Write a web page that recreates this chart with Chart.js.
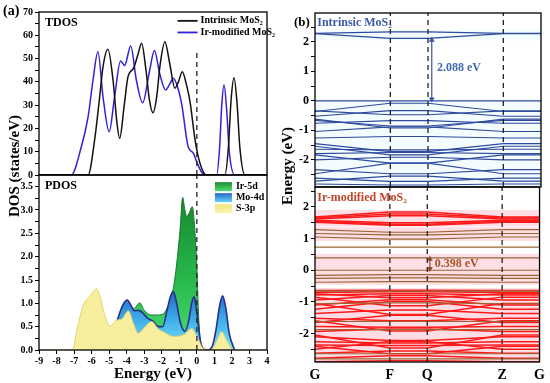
<!DOCTYPE html>
<html>
<head>
<meta charset="utf-8">
<script src="https://cdn.jsdelivr.net/npm/chart.js@4.4.1/dist/chart.umd.min.js"></script>
<style>
    body { margin: 0; background: #fff; }
    #fig { position: relative; width: 550px; height: 383px; overflow: hidden;
           font-family: "Liberation Serif", "Times New Roman", serif; font-weight: bold; }
    canvas { position: absolute; }
    .lbl { position: absolute; white-space: nowrap; color: #000; }
    .rot { transform: translate(-50%, -50%) rotate(-90deg); }
</style>
</head>
<body>
<div id="fig">
    <canvas id="tdos" width="275" height="190" style="left:0;top:0"></canvas>
    <canvas id="pdos" width="275" height="218" style="left:0;top:165px"></canvas>
    <canvas id="bandA" width="275" height="200" style="left:275px;top:0"></canvas>
    <canvas id="bandB" width="275" height="206" style="left:275px;top:177px"></canvas>
    <div class="lbl" style="left:3px;top:3px;font-size:14px">(a)</div>
    <div class="lbl rot" style="left:14px;top:166px;font-size:15px">DOS (states/eV)</div>
    <div class="lbl" style="left:294px;top:14px;font-size:13px">(b)</div>
    <div class="lbl rot" style="left:287px;top:166px;font-size:15px">Energy (eV)</div>
</div>
<script>
//
// Data
//

// TDOS (energy in eV, states/eV)
const tdosIntrinsicE = [-9, -6.2, -5.83, -5.54, -5.35, -5.07, -4.78, -4.55, -4.4, -4.15, -3.93, -3.6, -3.35, -3.15, -2.9, -2.7, -2.5, -2.3, -2.1, -1.82, -1.55, -1.25, -1.05, -0.83, -0.6, -0.39, -0.1, 0.18, 0.56, 1.6, 1.8, 1.95, 2.12, 2.3, 2.45, 2.74, 4]
const tdosIntrinsic = [0, 0, 15, 33.6, 46.5, 54, 40.8, 22, 15.7, 29.3, 42, 46, 52, 56.6, 45, 32, 26.7, 33, 47, 57.2, 48, 37.3, 40, 44.3, 39, 31.5, 15, 5, 0, 0, 12, 32, 41.8, 30, 12, 0, 0]
const tdosIrE = [-9, -7.16, -6.59, -6.2, -5.92, -5.64, -5.35, -5.0, -4.69, -4.35, -4.12, -3.77, -3.45, -3.09, -2.69, -2.42, -2.12, -1.78, -1.55, -1.34, -1.15, -0.87, -0.49, -0.2, -0.01, 0.25, 0.5, 1.13, 1.3, 1.42, 1.55, 1.7, 1.85, 2.17, 4]
const tdosIr = [0, 0, 12, 25, 40.8, 52.9, 33.6, 18.6, 33.6, 49, 47, 55.4, 40.8, 31, 45, 53.5, 43.6, 36.5, 39, 41.6, 39, 30.8, 12, 9.4, 5.7, 1.5, 0, 0, 12, 30, 38.6, 28, 10, 0, 0]

// PDOS (energy in eV, states/eV)
const pdosSE = [-9, -7.1, -6.8, -6.47, -6.09, -5.71, -5.52, -5.25, -4.95, -4.57, -4.28, -3.91, -3.6, -3.34, -2.95, -2.58, -2.2, -1.91, -1.34, -0.68, -0.29, 0.0, 0.37, 0.65, 0.95, 1.2, 1.42, 1.7, 2.07, 4]
const pdosS = [0, 0, 0.5, 0.96, 1.16, 1.31, 1.14, 0.75, 0.51, 0.64, 0.66, 0.84, 0.55, 0.36, 0.5, 0.61, 0.45, 0.39, 0.29, 0.34, 0.46, 0.29, 0.03, 0, 0.05, 0.25, 0.39, 0.2, 0, 0]
const pdosMoE = [-5.0, -4.7, -4.44, -4.2, -3.97, -3.75, -3.55, -3.3, -3.1, -2.8, -2.5, -2.2, -1.95, -1.7, -1.5, -1.34, -1.15, -0.95, -0.68, -0.45, -0.3, -0.15, 0.0, 0.2, 0.4, 0.65, 0.9, 1.1, 1.3, 1.47, 1.65, 1.85, 2.15]
const pdosMo = [0, 0.4, 0.75, 0.98, 1.07, 0.95, 0.84, 0.85, 0.8, 0.68, 0.62, 0.5, 0.5, 0.85, 1.15, 1.25, 1.0, 0.6, 0.4, 0.65, 1.0, 1.14, 0.8, 0.2, 0.02, 0, 0.1, 0.45, 0.95, 1.16, 0.9, 0.35, 0]
const pdosIrE = [-5.0, -4.6, -4.2, -3.97, -3.6, -3.26, -3.0, -2.6, -2.2, -1.9, -1.6, -1.35, -1.15, -0.96, -0.81, -0.68, -0.58, -0.45, -0.26, -0.12, 0.0, 0.12, 0.3, 0.5]
const pdosIr = [0, 0.55, 0.95, 1.05, 0.88, 1.01, 0.85, 0.75, 0.75, 0.78, 0.98, 1.3, 1.85, 2.57, 3.27, 3.0, 2.86, 2.93, 3.07, 2.6, 1.78, 0.58, 0.05, 0]

// Band structure: high-symmetry path and energies [at G/Z, at F/Q] (eV)
const kPoints = [0, 2, 3, 5, 6]
const kLabels = ['G', 'F', 'Q', 'Z', 'G']
const bandsIntrinsic = [
    [2.29, 2.34], [2.28, 2.12],
    [0.00, 0.00], [-0.36, -0.08], [-0.34, -0.47], [-0.52, -0.33],
    [-0.66, -0.85], [-0.76, -0.67], [-0.62, -0.92], [-1.04, -0.88],
    [-1.26, -1.21], [-1.54, -1.83], [-1.64, -1.66], [-1.79, -1.75],
    [-1.45, -1.72], [-2.00, -1.91], [-1.83, -2.11], [-2.33, -2.47],
    [-2.47, -2.11], [-2.62, -2.73], [-2.82, -2.85], [-2.72, -2.55],
]
const bandsIrRed = [
    [1.68, 1.84], [1.65, 1.78], [1.62, 1.72], [1.58, 1.50], [1.55, 1.45], [1.52, 1.42],
    [-0.64, -0.63], [-0.70, -0.68], [-0.78, -0.74], [-0.94, -0.80], [-0.74, -0.87],
    [-1.10, -0.93], [-1.23, -0.99], [-0.85, -1.12], [-1.37, -1.26], [-1.05, -1.40],
    [-1.52, -1.60], [-1.65, -1.42], [-1.78, -1.80], [-1.94, -1.86], [-1.60, -1.92],
    [-2.10, -2.22], [-2.26, -2.30], [-2.36, -2.38], [-2.05, -2.46], [-2.50, -2.25],
    [-2.62, -2.55], [-2.40, -2.64], [-2.78, -2.70], [-2.89, -2.86],
]
const bandsIrBrown = [
    [1.28, 1.20], [1.16, 1.12], [1.05, 0.98], [0.73, 0.73], [0.39, 0.39],
    [0.00, 0.00], [-0.16, -0.14], [-0.26, -0.24], [-0.38, -0.36],
    [-0.66, -0.66], [-1.06, -1.03], [-1.62, -1.62], [-1.88, -1.88],
    [-2.64, -2.64], [-2.80, -2.80],
]
const shadeIntrinsic = [[2.42, 2.06], [0.05, -2.92]]
const shadeIr = [[1.9, 1.38], [1.36, 0.92], [0.52, -0.46], [-0.56, -2.9]]
const gapIntrinsic = [0.0, 2.12]
const gapIr = [0.0, 0.4]

//
// Helpers
//

const FONT = '"Liberation Serif", "Times New Roman", serif'
Chart.defaults.font = { family: FONT, size: 10, weight: 'bold' }
Chart.defaults.color = '#000'
Chart.defaults.elements.point.radius = 0
Chart.defaults.elements.line.borderWidth = 1

function pts (xs, ys) {
    return xs.map((x, i) => ({ x, y: ys[i] }))
}

function bandPts ([ g, f ]) {
    return pts(kPoints, [ g, f, f, g, g ])
}

function vline (x, y0, y1, color) {
    return {
        data: [ { x, y: y0 }, { x, y: y1 } ],
        borderColor: color || '#222',
        borderWidth: 1.3,
        borderDash: [ 5, 4 ],
        fill: false,
    }
}

function arrow (x, y0, y1, color) {
    return {
        data: [ { x, y: y0 }, { x, y: y1 } ],
        borderColor: color,
        backgroundColor: color,
        pointBackgroundColor: color,
        borderWidth: 1.2,
        pointRadius: 3.4,
        pointStyle: 'triangle',
        pointRotation: [ 180, 0 ],
        pointBorderWidth: 0,
        fill: false,
    }
}

function vGradient (stops, top) {
    return (c) => {
        const chart = c.chart
        if (!chart.chartArea) return stops[stops.length - 1]
        const y = chart.scales.y
        const g = chart.ctx.createLinearGradient(0, y.getPixelForValue(top), 0, y.getPixelForValue(0))
        stops.forEach((s, i) => g.addColorStop(i / (stops.length - 1), s))
        return g
    }
}

function yAxis (min, max, step, label, size, width) {
    return {
        min,
        max,
        afterFit: (s) => { s.width = width },
        grid: { drawOnChartArea: false, color: '#000', tickLength: 4 },
        border: { display: false },
        ticks: {
            stepSize: step,
            includeBounds: false,
            autoSkip: false,
            padding: 2,
            font: { size, weight: 'bold', family: FONT },
            callback: label,
        },
    }
}

const intLabel = (v) => (Math.abs(v - Math.round(v)) < 1e-6 ? Math.round(v) : '')
const tenLabel = (v) => (v % 10 === 0 ? v : '')
const halfLabel = (v) => (Math.abs(v * 2 - Math.round(v * 2)) < 1e-6 ? v.toFixed(1) : '')

//
// Plugins
//

const framePlugin = {
    id: 'frame',
    afterDatasetsDraw (chart) {
        const { ctx, chartArea: a } = chart
        ctx.save()
        ctx.strokeStyle = '#000'
        ctx.lineWidth = 1.3
        ctx.strokeRect(a.left, a.top, a.right - a.left, a.bottom - a.top)
        ctx.restore()
    },
}

const notesPlugin = {
    id: 'notes',
    afterDraw (chart, args, opts) {
        const { ctx, scales } = chart
        for (const n of opts.items || []) {
            ctx.save()
            ctx.font = `bold ${n.size}px ${FONT}`
            ctx.fillStyle = n.color
            ctx.textBaseline = 'middle'
            ctx.fillText(n.text, scales.x.getPixelForValue(n.x), scales.y.getPixelForValue(n.y))
            ctx.restore()
        }
    },
}

const keyPlugin = {
    id: 'key',
    afterDraw (chart, args, opts) {
        const { ctx, scales } = chart
        const x0 = scales.x.getPixelForValue(opts.x)
        let y0 = scales.y.getPixelForValue(opts.y)
        const items = chart.data.datasets.filter((ds) => ds.keyLabel)
        items.sort((a, b) => a.keyOrder - b.keyOrder)
        ctx.save()
        ctx.font = `bold ${opts.size}px ${FONT}`
        ctx.textBaseline = 'middle'
        for (const ds of items) {
            if (opts.kind === 'line') {
                ctx.strokeStyle = ds.borderColor
                ctx.lineWidth = 1.8
                ctx.beginPath()
                ctx.moveTo(x0, y0)
                ctx.lineTo(x0 + 20, y0)
                ctx.stroke()
                ctx.fillStyle = '#000'
                ctx.fillText(ds.keyLabel, x0 + 23, y0)
            } else {
                const g = ctx.createLinearGradient(0, y0 - 4.5, 0, y0 + 4.5)
                ds.keyStops.forEach((s, i) => g.addColorStop(i / (ds.keyStops.length - 1), s))
                ctx.fillStyle = g
                ctx.fillRect(x0, y0 - 4.5, 17, 9)
                ctx.fillStyle = '#000'
                ctx.fillText(ds.keyLabel, x0 + 21, y0)
            }
            y0 += opts.gap
        }
        ctx.restore()
    },
}

//
// (a) TDOS
//

new Chart(document.getElementById('tdos'), {
    type: 'line',
    data: {
        datasets: [
            vline(0, 0, 53.5),
            {
                keyLabel: 'Intrinsic MoS₂',
                keyOrder: 1,
                data: pts(tdosIntrinsicE, tdosIntrinsic),
                borderColor: '#111',
                borderWidth: 1.5,
                cubicInterpolationMode: 'monotone',
                tension: 0.4,
            },
            {
                keyLabel: 'Ir-modified MoS₂',
                keyOrder: 2,
                data: pts(tdosIrE, tdosIr),
                borderColor: '#2f22d8',
                borderWidth: 1.5,
                cubicInterpolationMode: 'monotone',
                tension: 0.4,
            },
        ],
    },
    options: {
        responsive: false,
        animation: false,
        layout: { padding: { top: 12, right: 8, bottom: 15, left: 0 } },
        plugins: {
            legend: { display: false },
            tooltip: { enabled: false },
            notes: { items: [ { text: 'TDOS', x: -8.66, y: 65.5, size: 12, color: '#000' } ] },
            key: { kind: 'line', x: -1.1, y: 66.2, gap: 11.6, size: 10 },
        },
        scales: {
            x: { type: 'linear', min: -9, max: 4, display: false },
            y: yAxis(0, 70, 5, tenLabel, 10, 39),
        },
    },
    plugins: [ framePlugin, notesPlugin, keyPlugin ],
})

//
// (a) PDOS
//

new Chart(document.getElementById('pdos'), {
    type: 'line',
    data: {
        datasets: [
            vline(0, 0, 3.75),
            {
                keyLabel: 'S-3p',
                keyOrder: 3,
                keyStops: [ '#f3e67e', '#faf3b4' ],
                data: pts(pdosSE, pdosS),
                borderColor: '#e3d36a',
                backgroundColor: '#f8ef9e',
                fill: 'origin',
                cubicInterpolationMode: 'monotone',
                tension: 0.4,
            },
            {
                keyLabel: 'Mo-4d',
                keyOrder: 2,
                keyStops: [ '#2a64c8', '#62d6f6' ],
                data: pts(pdosMoE, pdosMo),
                borderColor: '#2b2f8c',
                borderWidth: 1.6,
                backgroundColor: vGradient([ '#2369c6', '#3fb0ea', '#7ae6fb' ], 1.25),
                fill: 'origin',
                cubicInterpolationMode: 'monotone',
                tension: 0.4,
            },
            {
                keyLabel: 'Ir-5d',
                keyOrder: 1,
                keyStops: [ '#1b8a33', '#52dc74' ],
                data: pts(pdosIrE, pdosIr),
                borderColor: '#1a7a2e',
                backgroundColor: vGradient([ '#17862f', '#26b44a', '#4be070' ], 3.3),
                fill: 'origin',
                cubicInterpolationMode: 'monotone',
                tension: 0.4,
            },
        ],
    },
    options: {
        responsive: false,
        animation: false,
        layout: { padding: { top: 10, right: 8, bottom: 0, left: 0 } },
        plugins: {
            legend: { display: false },
            tooltip: { enabled: false },
            filler: { propagate: false },
            notes: { items: [ { text: 'PDOS', x: -8.66, y: 3.52, size: 12, color: '#000' } ] },
            key: { kind: 'box', x: 1.03, y: 3.5, gap: 11, size: 10 },
        },
        scales: {
            x: {
                type: 'linear',
                min: -9,
                max: 4,
                afterFit: (s) => { s.height = 33 },
                grid: { drawOnChartArea: false, color: '#000', tickLength: 4 },
                border: { display: false },
                ticks: { stepSize: 1, autoSkip: false, padding: 1, maxRotation: 0 },
                title: { display: true, text: 'Energy (eV)', font: { size: 15, weight: 'bold' }, padding: 0 },
            },
            y: yAxis(0, 3.75, 0.25, halfLabel, 10, 39),
        },
    },
    plugins: [ framePlugin, notesPlugin, keyPlugin ],
})

//
// (b) band structures
//

function bandChart (id, yMin, yMax, padding, showX, layers, notes) {
    new Chart(document.getElementById(id), {
        type: 'line',
        data: { datasets: layers },
        options: {
            responsive: false,
            animation: false,
            layout: { padding },
            plugins: {
                legend: { display: false },
                tooltip: { enabled: false },
                filler: { propagate: false },
                notes: { items: notes },
            },
            scales: {
                x: {
                    type: 'linear',
                    min: 0,
                    max: 6,
                    display: showX,
                    afterFit: (s) => { s.height = showX ? 21 : 0 },
                    afterBuildTicks: (axis) => { axis.ticks = kPoints.map((v) => ({ value: v })) },
                    grid: { drawOnChartArea: false, drawTicks: false },
                    border: { display: false },
                    ticks: {
                        autoSkip: false,
                        padding: 5,
                        maxRotation: 0,
                        font: { size: 14, weight: 'bold', family: FONT },
                        callback: (v, i) => kLabels[i],
                    },
                },
                y: yAxis(yMin, yMax, 0.5, intLabel, 12, 40),
            },
        },
        plugins: [ framePlugin, notesPlugin ],
    })
}

function shades (list, color) {
    return list.map(([ top, bottom ]) => ({
        data: pts([ 0, 6 ], [ top, top ]),
        borderWidth: 0,
        backgroundColor: color,
        fill: { value: bottom },
    }))
}

function bands (list, color, width) {
    return list.map((b) => ({ data: bandPts(b), borderColor: color, borderWidth: width, fill: false }))
}

bandChart('bandA', -2.92, 2.98, { top: 13, right: 9, bottom: 13, left: 0 }, false, [
    ...kPoints.slice(1, 4).map((k) => vline(k, -2.92, 2.98)),
    arrow(3.1, gapIntrinsic[0] + 0.06, gapIntrinsic[1] - 0.06, '#3a55a5'),
    ...bands(bandsIntrinsic, '#2f4b9e', 1.1),
    ...shades(shadeIntrinsic, 'rgba(200, 240, 250, 0.22)'),
], [
    { text: 'Intrinsic MoS₂', x: 0.06, y: 2.65, size: 12, color: '#3b5aa8' },
    { text: '2.088 eV', x: 3.24, y: 1.12, size: 12, color: '#3d6cb0' },
])

bandChart('bandB', -2.9, 2.63, { top: 10, right: 9, bottom: 0, left: 0 }, true, [
    ...kPoints.slice(1, 4).map((k) => vline(k, -2.9, 2.63)),
    arrow(3.07, gapIr[0] + 0.05, gapIr[1] - 0.05, '#8b4a2a'),
    ...bands(bandsIrBrown, '#9a6634', 1.2),
    ...bands(bandsIrRed, '#ff1a1a', 1.5),
    ...shades(shadeIr, 'rgba(255, 150, 175, 0.32)'),
], [
    { text: 'Ir-modified MoS₂', x: 0.06, y: 2.29, size: 12, color: '#c0452a' },
    { text: '0.398 eV', x: 3.2, y: 0.19, size: 12, color: '#a8532a' },
])
</script>
</body>
</html>
